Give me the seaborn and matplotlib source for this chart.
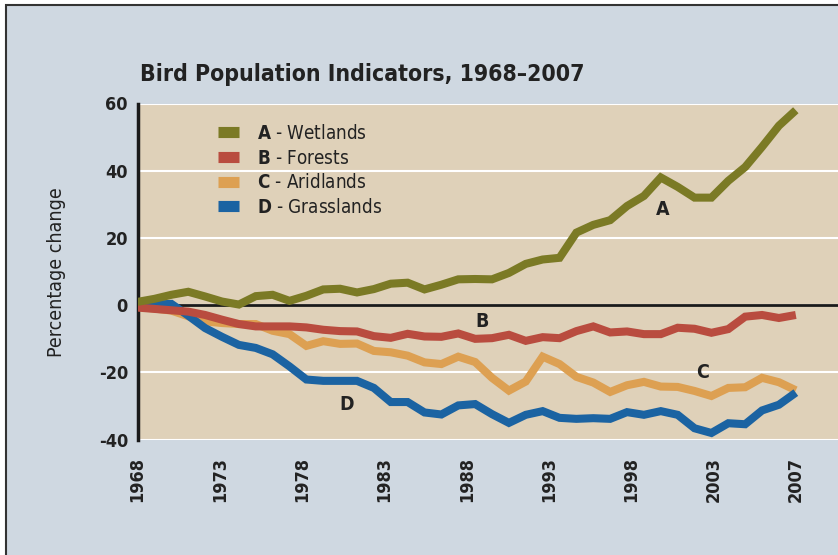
import numpy as np
import pandas as pd
import seaborn as sns
import matplotlib
matplotlib.use('Agg')
import matplotlib.pyplot as plt
from matplotlib.lines import Line2D
from matplotlib.patches import Rectangle

# Data (percentage change since 1968)
years = list(range(1968, 2008))
wetlands = [1.0, 1.9, 3.1, 4.0, 2.6, 1.1, 0.2, 2.7, 3.1, 1.3, 2.8, 4.7, 4.9, 3.8, 4.8,
            6.4, 6.7, 4.7, 6.1, 7.7, 7.8, 7.7, 9.6, 12.3, 13.6, 14.1, 21.6, 23.9, 25.3,
            29.5, 32.5, 38.0, 35.2, 32.0, 32.0, 37.0, 41.1, 47.1, 53.4, 58.0]
forests = [-0.7, -1.1, -1.5, -1.9, -2.9, -4.3, -5.6, -6.3, -6.3, -6.3, -6.6, -7.3, -7.7,
           -7.8, -9.2, -9.7, -8.5, -9.3, -9.4, -8.4, -10.0, -9.8, -8.8, -10.6, -9.5,
           -9.8, -7.7, -6.3, -8.1, -7.8, -8.6, -8.6, -6.7, -7.0, -8.2, -7.1, -3.4,
           -2.9, -3.8, -2.9]
aridlands = [-0.5, -1.0, -1.6, -3.3, -4.8, -5.3, -5.6, -5.6, -7.6, -8.6, -12.1, -10.7,
             -11.5, -11.4, -13.6, -14.0, -15.0, -17.0, -17.5, -15.3, -16.9, -21.6, -25.4,
             -22.7, -15.3, -17.5, -21.3, -23.0, -25.8, -23.8, -22.8, -24.2, -24.3, -25.5,
             -27.0, -24.6, -24.4, -21.6, -22.9, -25.3]
grasslands = [-0.5, 0.2, 0.4, -3.1, -6.8, -9.4, -11.8, -12.7, -14.6, -18.2, -22.1, -22.5,
              -22.5, -22.5, -24.6, -28.8, -28.8, -31.9, -32.5, -29.8, -29.4, -32.4, -35.0,
              -32.6, -31.5, -33.5, -33.8, -33.6, -33.8, -31.8, -32.6, -31.5, -32.6, -36.6,
              -38.0, -35.1, -35.4, -31.3, -29.6, -26.0]

codes = ['A', 'B', 'C', 'D']
names = ['Wetlands', 'Forests', 'Aridlands', 'Grasslands']
colors = ['#7b7a25', '#b94c3f', '#dda052', '#1b63a2']
tick_labels = ['1968', '1973', '1978', '1983', '1988', '1993', '1998', '2003', '2007']

df = pd.DataFrame({
    'year': years * 4,
    'value': wetlands + forests + aridlands + grasslands,
    'series': [c for c in codes for _ in years],
})

sns.set_style('white')
plt.rcParams['font.family'] = ['DejaVu Sans']
plt.rcParams['font.stretch'] = 'condensed'
plt.rcParams['mathtext.fontset'] = 'custom'
plt.rcParams['mathtext.rm'] = 'DejaVu Sans'
plt.rcParams['mathtext.bf'] = 'DejaVu Sans:bold'

fig = plt.figure(figsize=(8.38, 5.55), dpi=100)
fig.patch.set_facecolor('white')
fig.patches.append(Rectangle((5.5 / 838, -0.1), 1.2, 1.1 - 5.5 / 555,
                             transform=fig.transFigure, facecolor='#cfd8e1',
                             edgecolor='#333333', linewidth=1.5, zorder=-10))

ax = fig.add_axes([137.6 / 838, 115.3 / 555, 1 - 137.6 / 838, 336.2 / 555])
ax.set_facecolor('#dfd1b9')

# draw order: aridlands bottom, then grasslands, forests, wetlands on top
order = ['C', 'D', 'B', 'A']
palette = dict(zip(codes, colors))
sns.lineplot(data=df, x='year', y='value', hue='series', hue_order=order,
             palette=palette, linewidth=5.8, legend=False, ax=ax,
             solid_joinstyle='miter', solid_capstyle='butt')
for ln in ax.get_lines():
    ln.set_zorder(3)

ax.axhline(0, color='#1a1a1a', linewidth=2, zorder=2)
ax.set_xlim(1968, 2009.5)
ax.set_ylim(-40, 60)
ax.set_yticks([-40, -20, 0, 20, 40, 60])
ax.set_xticks(np.linspace(1968, 2007, 9))
ax.set_xticklabels(tick_labels, rotation=90, fontsize=13, fontweight='bold', color='#222222')
ax.set_yticklabels(['-40', '-20', '0', '20', '40', '60'], fontsize=13,
                   fontweight='bold', color='#222222')
ax.grid(axis='y', color='white', linewidth=1.5, zorder=1)
ax.set_axisbelow(True)
ax.set_xlabel('')
ax.set_ylabel('')
for side in ['top', 'right', 'bottom']:
    ax.spines[side].set_visible(False)
ax.spines['left'].set_color('#1a1a1a')
ax.spines['left'].set_linewidth(2.5)
ax.tick_params(axis='y', direction='out', length=4, width=2, color='#1a1a1a', pad=3)
ax.tick_params(axis='x', direction='out', length=2.5, width=2.5, color='#1a1a1a', pad=10)

# series letters
ax.text(1999.1, 28.6, 'A', fontsize=14, fontweight='bold', ha='center', va='center', color='#222222')
ax.text(1988.4, -4.9, 'B', fontsize=14, fontweight='bold', ha='center', va='center', color='#222222')
ax.text(2001.5, -20.1, 'C', fontsize=14, fontweight='bold', ha='center', va='center', color='#222222')
ax.text(1980.4, -29.6, 'D', fontsize=14, fontweight='bold', ha='center', va='center', color='#222222')

# legend
handles = [Line2D([0], [0], color=c, linewidth=8, solid_capstyle='butt') for c in colors]
labels = [r'$\mathbf{' + c + '}$ - ' + n for c, n in zip(codes, names)]
leg = fig.legend(handles, labels, loc='upper left', bbox_to_anchor=(218 / 838, 1 - 124 / 555),
                 frameon=False, fontsize=13.5, handlelength=1.1, handletextpad=1.0,
                 labelspacing=0.3, borderpad=0, borderaxespad=0)
for t in leg.get_texts():
    t.set_color('#222222')

fig.text(140 / 838, 1 - 81 / 555, 'Bird Population Indicators, 1968\u20132007',
         fontsize=16.5, fontweight='bold', ha='left', va='baseline', color='#222222')
fig.text(57 / 838, 1 - 272 / 555, 'Percentage change', rotation=90, fontsize=14,
         ha='center', va='center', color='#222222')

plt.savefig('out.png', dpi=100, facecolor=fig.get_facecolor())
